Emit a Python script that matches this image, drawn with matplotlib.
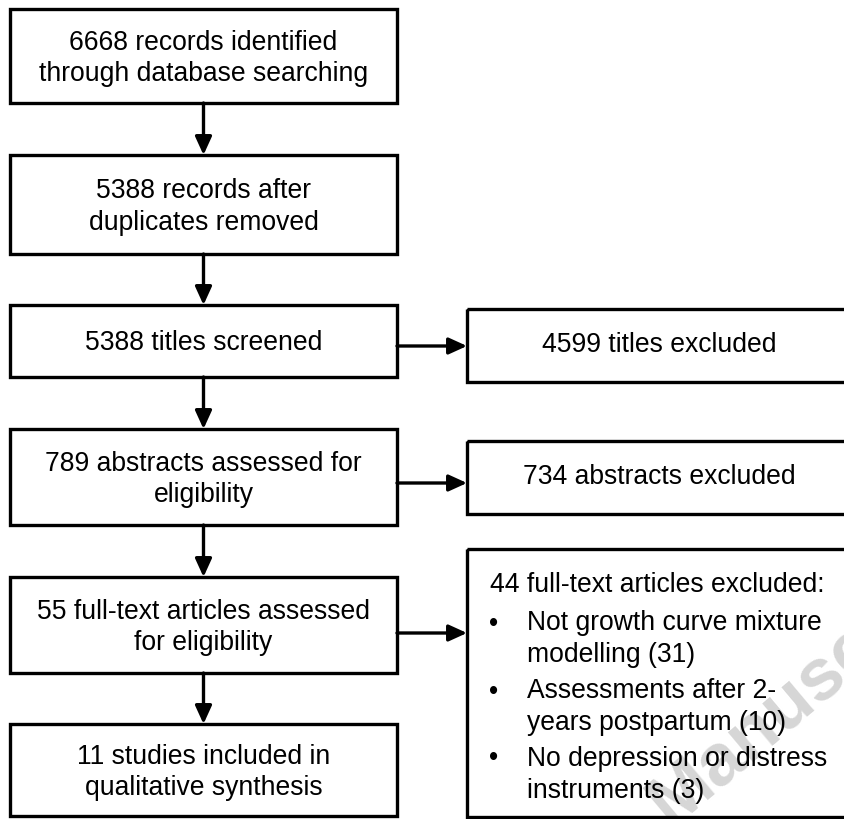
import matplotlib
matplotlib.use("Agg")
import matplotlib.pyplot as plt
from matplotlib.patches import Rectangle

plt.rcParams['font.family'] = ['Liberation Sans', 'DejaVu Sans']

# ---- content (data) ----
left_labels = [
    "6668 records identified\nthrough database searching",
    "5388 records after\nduplicates removed",
    "5388 titles screened",
    "789 abstracts assessed for\neligibility",
    "55 full-text articles assessed\nfor eligibility",
    "11 studies included in\nqualitative synthesis",
]
right_labels = ["4599 titles excluded", "734 abstracts excluded"]
excl_header = "44 full-text articles excluded:"
excl_items = [
    "Not growth curve mixture\nmodelling (31)",
    "Assessments after 2-\nyears postpartum (10)",
    "No depression or distress\ninstruments (3)",
]
watermark = "Manuscript"

# ---- layout (pixels, y downwards) ----
W, H = 844, 819
left_x = (10, 397)
left_y = [(9, 103), (155, 254), (305, 377), (429, 525), (577, 673), (724, 816)]
right_x = (467, 852)
right_y = [(309, 382), (441, 514), (549, 817)]
harrow_from = [2, 3, 4]
harrow_y = [346, 483, 633]
line_step = 31
fs = 19.1
lw = 2.4
BASE = 9.5  # baseline offset from visual line center

fig = plt.figure(figsize=(W / 100, H / 100), dpi=100)
ax = fig.add_axes([0, 0, 1, 1])
ax.set_xlim(0, W)
ax.set_ylim(H, 0)
ax.axis('off')

# watermark
ax.text(670, 828, watermark, rotation=40, rotation_mode='anchor', ha='left',
        va='baseline', fontsize=53, fontweight='bold', color='#d6d6d6',
        zorder=1, clip_on=False)


def draw_box(x0, x1, y0, y1):
    ax.add_patch(Rectangle((x0, y0), x1 - x0, y1 - y0, fill=False,
                           edgecolor='black', linewidth=lw, zorder=2))


def draw_lines(text, cx, cy, step, ha='center'):
    lines = text.split("\n")
    n = len(lines)
    for i, ln in enumerate(lines):
        yc = cy + (i - (n - 1) / 2) * step
        ax.text(cx, yc + BASE, ln, ha=ha, va='baseline', fontsize=fs,
                color='black', zorder=3)


def arrow(x0, y0, x1, y1):
    ax.annotate("", xy=(x1, y1), xytext=(x0, y0),
                arrowprops=dict(arrowstyle='-|>,head_length=0.55,head_width=0.25',
                                mutation_scale=20, lw=lw, color='black',
                                shrinkA=0, shrinkB=0), zorder=3)


lcx = (left_x[0] + left_x[1]) / 2
for (y0, y1), lab in zip(left_y, left_labels):
    draw_box(left_x[0], left_x[1], y0, y1)
    draw_lines(lab, lcx, (y0 + y1) / 2, line_step)

for i in range(len(left_y) - 1):
    arrow(lcx, left_y[i][1], lcx, left_y[i + 1][0])

rcx = (right_x[0] + right_x[1]) / 2
for (y0, y1), lab in zip(right_y[:2], right_labels):
    draw_box(right_x[0], right_x[1], y0, y1)
    draw_lines(lab, rcx, (y0 + y1) / 2 - 3, line_step)

# exclusion list box
y0, y1 = right_y[2]
draw_box(right_x[0], right_x[1], y0, y1)
ax.text(490, 583 + BASE, excl_header, ha='left', va='baseline', fontsize=fs, zorder=3)
item_centers = [637, 705, 772]
for cy, item in zip(item_centers, excl_items):
    draw_lines(item, 527, cy, 32, ha='left')
    ax.text(494, cy - 16 + BASE, "\u2022", ha='center', va='baseline',
            fontsize=fs, zorder=3)

for li, yy, rj in zip(harrow_from, harrow_y, range(3)):
    arrow(left_x[1], yy, right_x[0], yy)

fig.savefig("out.png", dpi=100)
